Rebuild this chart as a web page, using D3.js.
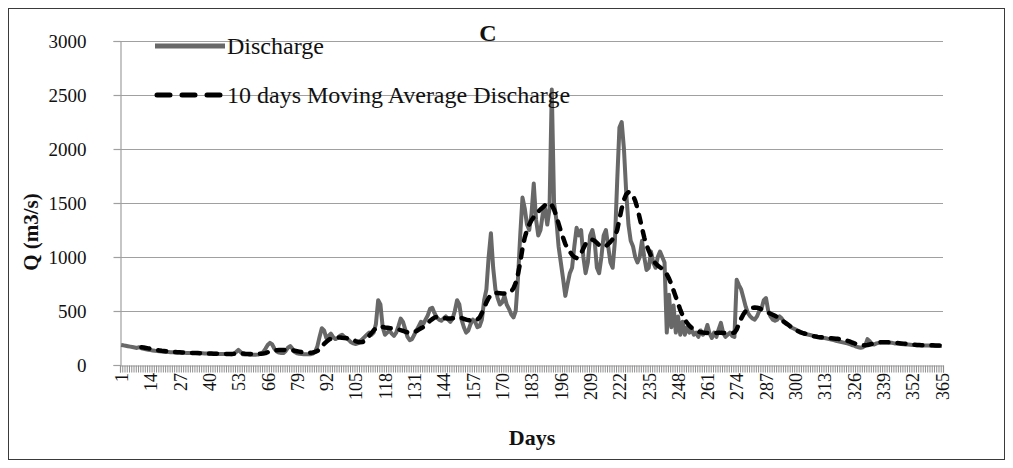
<!DOCTYPE html>
<html><head><meta charset="utf-8">
<script src="https://cdn.jsdelivr.net/npm/d3@7"></script>
<style>
html,body{margin:0;padding:0;background:#fff;}
svg{display:block;font-family:"Liberation Serif","Times New Roman",serif;}
</style></head>
<body><svg id="chart" width="1013" height="468"></svg>
<script>
// ---- data ----
const days = d3.range(1, 366);
const discharge = [
185,182,178,174,170,166,162,158,165,155,
150,145,142,138,135,132,130,128,125,122,
120,120,118,118,116,116,115,114,113,112,
112,111,110,110,109,108,108,107,106,105,
105,104,104,103,103,102,102,101,101,100,
105,120,140,120,100,98,97,96,95,95,
96,98,105,120,150,185,205,190,150,125,
115,112,110,130,160,175,150,120,108,104,
102,100,100,99,100,105,120,170,260,340,
320,250,270,290,260,240,250,270,280,260,
250,230,210,200,195,200,220,240,260,280,
300,280,300,380,600,560,350,280,300,320,
290,270,300,360,430,400,330,260,230,240,
280,320,360,400,380,420,460,520,530,480,
440,420,410,430,450,420,400,430,500,600,
560,420,350,300,320,380,420,400,350,360,
420,600,700,1000,1220,900,700,620,560,580,
640,560,520,470,440,500,800,1200,1550,1450,
1300,1250,1400,1680,1350,1200,1250,1400,1450,1300,
1450,2550,1500,1350,1100,950,800,640,750,850,
900,1100,1270,1200,1250,1000,850,950,1200,1250,
1150,900,850,1000,1200,1250,1100,950,900,1150,
1700,2200,2250,2000,1600,1300,1150,1100,1000,950,
1000,1150,1000,880,900,1050,950,900,1000,1050,
1000,950,300,650,350,550,300,450,280,400,
280,350,300,330,280,300,260,320,280,300,
370,290,250,300,260,330,390,300,260,280,
300,270,260,790,740,700,620,540,480,450,
430,420,450,500,520,600,620,500,450,420,
410,420,450,430,400,380,370,350,340,330,
320,310,300,290,285,280,275,270,265,260,
255,250,250,245,240,235,230,225,220,215,
210,205,200,195,185,180,170,165,160,165,
180,240,220,195,190,200,205,210,210,210,
210,205,205,200,200,198,195,192,190,190,
188,186,185,184,183,182,181,180,180,179,
178,178,177,176,175
];
// 10-day moving average, days 10..365
const maStartDay = 10;
const movingAvg = [
165,162,158,154,150,146,142,138,135,132,
130,128,126,124,122,120,118,117,116,115,
114,113,112,111,110,110,109,108,108,107,
106,106,105,105,104,104,103,103,102,102,
102,103,105,107,108,106,104,103,102,102,
101,101,102,104,106,110,118,126,132,135,
137,138,138,139,140,139,138,136,132,128,
124,120,118,116,114,114,116,121,130,145,
170,195,215,232,245,252,255,256,255,252,
250,248,244,238,230,222,215,210,212,225,
245,270,295,320,340,352,355,352,348,345,
342,340,338,335,330,322,315,308,302,300,
300,305,315,328,340,352,365,385,410,425,
440,445,445,440,435,432,430,430,432,436,
440,440,435,428,420,415,412,410,408,420,
440,480,530,580,620,650,665,668,666,664,
662,662,664,668,680,710,760,840,950,1080,
1180,1250,1300,1340,1370,1400,1420,1440,1460,1480,
1495,1500,1480,1440,1380,1310,1240,1180,1120,1080,
1050,1020,1000,990,1000,1030,1080,1120,1150,1160,
1160,1150,1130,1110,1100,1095,1100,1120,1140,1165,
1190,1250,1350,1450,1530,1580,1600,1595,1570,1520,
1450,1360,1270,1180,1110,1060,1010,970,940,920,
905,890,870,840,800,750,690,630,570,510,
460,420,390,365,345,330,318,310,303,300,
298,297,296,296,296,297,298,298,297,296,
295,295,296,300,330,380,430,470,500,515,
525,530,532,530,525,515,505,495,485,475,
465,455,445,430,415,400,385,370,355,340,
328,315,305,298,292,286,280,274,268,263,
260,258,256,254,252,250,248,246,244,242,
238,234,230,225,218,210,202,195,188,184,
182,182,185,190,195,200,205,208,210,210,
210,210,210,208,206,204,202,200,198,196,
194,192,190,188,186,185,184,184,183,183,
182,182,181,181,180,180
];
const yTicks = [0,500,1000,1500,2000,2500,3000];
const xLabelDays = d3.range(1, 366, 13);
const title = "C";
const seriesNames = ["Discharge","10 days Moving Average Discharge"];
const xTitle = "Days", yTitle = "Q (m3/s)";

// ---- layout ----
const svg = d3.select("#chart");
const L = 120, R = 943, T = 41, B = 365;
const x = d3.scaleLinear().domain([0.5, 365.5]).range([L, R]);
const y = d3.scaleLinear().domain([0, 3000]).range([B, T]);
const gridC = "#a0a0a0";

// border
svg.append("rect").attr("x",8.5).attr("y",8.5).attr("width",996).attr("height",451)
  .attr("fill","none").attr("stroke","#3a3a3a").attr("stroke-width",1);

// gridlines
svg.append("g").selectAll("line").data(yTicks.filter(d=>d>0)).join("line")
  .attr("x1",L).attr("x2",R).attr("y1",d=>Math.round(y(d))+0.5).attr("y2",d=>Math.round(y(d))+0.5)
  .attr("stroke",gridC).attr("stroke-width",1.2);

// y axis
const yAxis = svg.append("g").attr("transform",`translate(${L+0.5},0)`)
  .call(d3.axisLeft(y).tickValues(yTicks).tickSize(7).tickPadding(24).tickFormat(d3.format("d")));
yAxis.select(".domain").attr("stroke",gridC).attr("stroke-width",1.2);
yAxis.selectAll(".tick line").attr("stroke",gridC).attr("stroke-width",1.2);
yAxis.selectAll(".tick text").attr("font-family","Liberation Serif").attr("font-size",19).attr("fill","#111")
  .attr("text-anchor","end").attr("x",-34);

// x axis: ticks between categories
const xb = svg.append("g").attr("transform",`translate(0,${B+0.5})`)
  .call(d3.axisBottom(x).tickValues(d3.range(0.5, 366, 1)).tickSize(7).tickFormat(""));
xb.select(".domain").attr("stroke",gridC).attr("stroke-width",1.2);
xb.selectAll(".tick line").attr("stroke","#8f8f8f").attr("stroke-width",1);

// x labels
const xl = svg.append("g").attr("transform",`translate(0,${B})`)
  .call(d3.axisBottom(x).tickValues(xLabelDays).tickSize(0).tickFormat(d=>d));
xl.select(".domain").remove();
xl.selectAll(".tick text").attr("font-family","Liberation Serif").attr("font-size",18).attr("fill","#111")
  .attr("transform","rotate(-90)").attr("text-anchor","end").attr("x",-8).attr("y",0).attr("dy","0.35em");

// lines
const line = d3.line().x(d=>x(d[0])).y(d=>y(d[1])).curve(d3.curveLinear);
svg.append("path").datum(days.map((d,i)=>[d, discharge[i]]))
  .attr("d",line).attr("fill","none").attr("stroke","#686868").attr("stroke-width",4)
  .attr("stroke-linejoin","round");
svg.append("path").datum(movingAvg.map((v,i)=>[maStartDay+i, v]))
  .attr("d",line).attr("fill","none").attr("stroke","#000").attr("stroke-width",4.5)
  .attr("stroke-dasharray","8,9").attr("stroke-linecap","round").attr("stroke-linejoin","round");

// legend
const lg = svg.append("g");
lg.append("line").attr("x1",155).attr("x2",225).attr("y1",46).attr("y2",46)
  .attr("stroke","#686868").attr("stroke-width",5);
lg.append("text").attr("x",227).attr("y",54).attr("font-size",24).attr("fill","#111").text(seriesNames[0]);
lg.append("line").attr("x1",157).attr("x2",223).attr("y1",95).attr("y2",95)
  .attr("stroke","#000").attr("stroke-width",5).attr("stroke-dasharray","13,12").attr("stroke-linecap","round");
lg.append("text").attr("x",227).attr("y",103).attr("font-size",24).attr("fill","#111").text(seriesNames[1]);

// titles
svg.append("text").attr("x",488).attr("y",41).attr("text-anchor","middle")
  .attr("font-weight","bold").attr("font-size",24).attr("fill","#111").text(title);
svg.append("text").attr("x",532).attr("y",445).attr("text-anchor","middle")
  .attr("font-weight","bold").attr("font-size",22).attr("fill","#111").text(xTitle);
svg.append("text").attr("transform","translate(38,232) rotate(-90)").attr("text-anchor","middle")
  .attr("font-weight","bold").attr("font-size",21).attr("fill","#111").text(yTitle);
</script></body></html>
